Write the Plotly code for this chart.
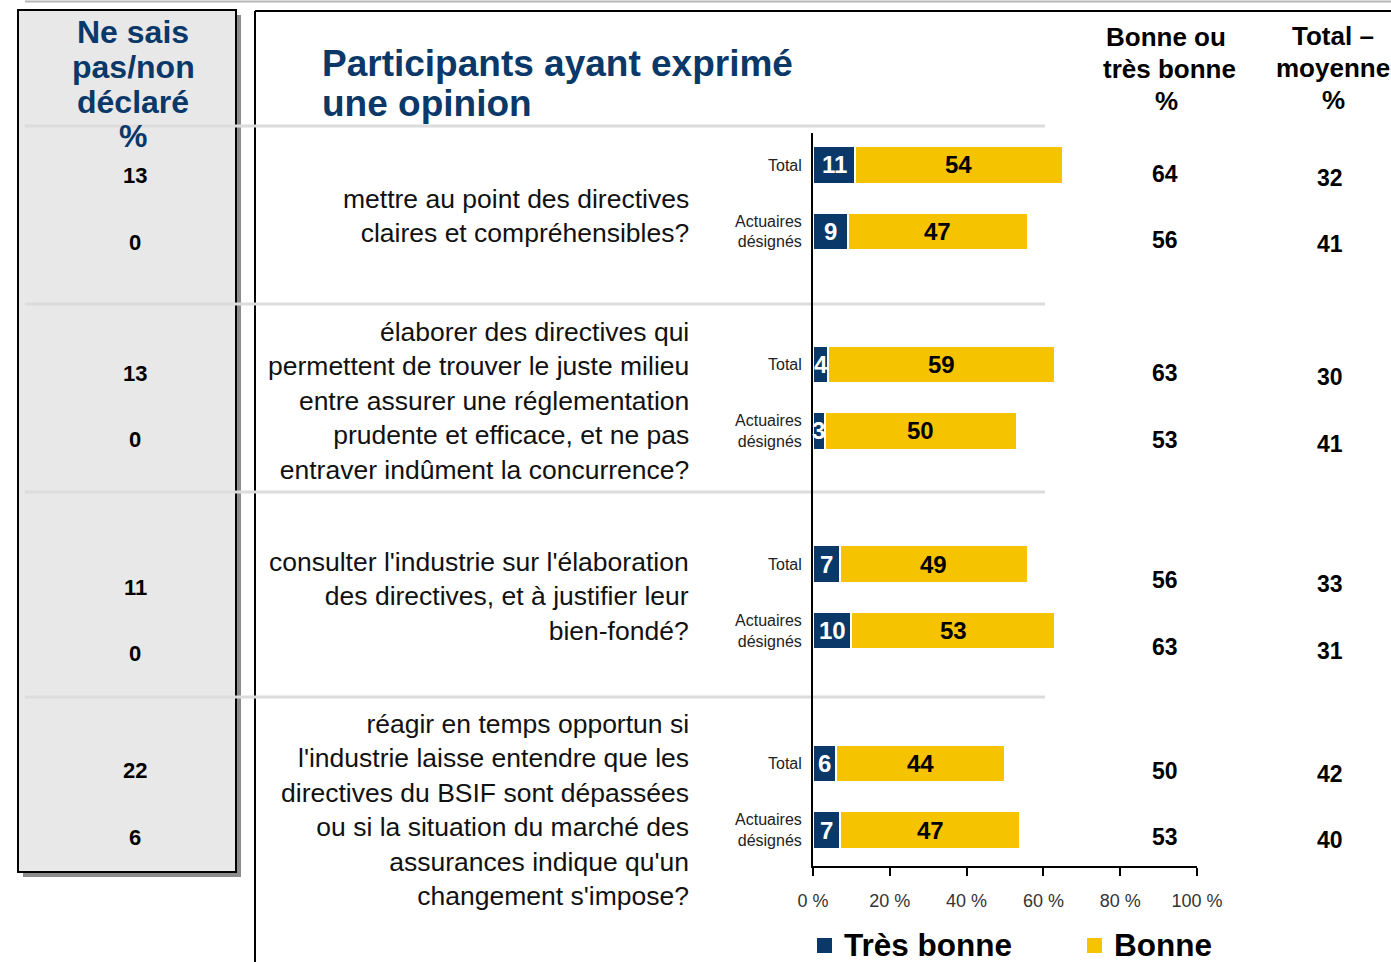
import plotly.graph_objects as go

# ---- data -------------------------------------------------------------
questions = [
    "mettre au point des directives<br>claires et compréhensibles?",
    "élaborer des directives qui<br>permettent de trouver le juste milieu<br>"
    "entre assurer une réglementation<br>prudente et efficace, et ne pas<br>"
    "entraver indûment la concurrence?",
    "consulter l'industrie sur l'élaboration<br>des directives, et à justifier leur<br>bien-fondé?",
    "réagir en temps opportun si<br>l'industrie laisse entendre que les<br>"
    "directives du BSIF sont dépassées<br>ou si la situation du marché des<br>"
    "assurances indique qu'un<br>changement s'impose?",
]
groups = ["Total", "Actuaires<br>désignés"]
series = ["Très bonne", "Bonne"]

# per question: [Total, Actuaires désignés]
tres_bonne = [[11, 9], [4, 3], [7, 10], [6, 7]]
bonne = [[54, 47], [59, 50], [49, 53], [44, 47]]
bonne_ou_tres_bonne = [[64, 56], [63, 53], [56, 63], [50, 53]]
total_moyenne = [[32, 41], [30, 41], [33, 31], [42, 40]]
ne_sais_pas = [[13, 0], [13, 0], [11, 0], [22, 6]]

x_ticks = [0, 20, 40, 60, 80, 100]
x_tick_labels = [f"{v} %" for v in x_ticks]

# ---- page geometry helpers -------------------------------------------
W, H = 1391, 962
FONT = "Liberation Sans, Arial, sans-serif"
NAVY = "#0a3868"
YELLOW = "#f5c300"
COLORS = [NAVY, YELLOW]


def fx(p):
    return p / W


def fy(p):
    return 1 - p / H


# each question occupies 3 slots on the category axis: Total, Actuaires, gap
y_pos = [3 * q + k for q in range(len(questions)) for k in range(len(groups))]


def flat(rows):
    return [v for row in rows for v in row]


fig = go.Figure()
for name, vals, color in zip(series, [tres_bonne, bonne], COLORS):
    fig.add_trace(go.Bar(
        name=name, orientation="h", y=y_pos, x=flat(vals),
        marker=dict(color=color, line=dict(color="white", width=2)),
        width=0.56, hoverinfo="skip", showlegend=False,
    ))

annotations = []


def label(text, x, y, size, color="black", bold=True, xanchor="center", **kw):
    annotations.append(dict(
        text=text, x=x, y=y, showarrow=False, xanchor=xanchor, yanchor="middle",
        font=dict(family=FONT, size=size, color=color, weight="bold" if bold else "normal"),
        **kw))


# value labels centred in each bar segment
for tb, b, yv in zip(flat(tres_bonne), flat(bonne), y_pos):
    label(str(tb), tb / 2, yv, 24, "white", xref="x", yref="y")
    label(str(b), tb + b / 2, yv, 24, "black", xref="x", yref="y")

# headings
label("Participants ayant exprimé", fx(320), fy(63), 37, NAVY, xanchor="left",
      xref="paper", yref="paper")
label("une opinion", fx(320), fy(103), 37, NAVY, xanchor="left",
      xref="paper", yref="paper")
for txt, yy in zip(["Ne sais", "pas/non", "déclaré", "%"], [32, 67, 102, 136]):
    label(txt, fx(133), fy(yy), 32, NAVY, xref="paper", yref="paper")
for txt, xx, yy in zip(["Bonne ou", "très bonne", "%"], [1166, 1169, 1166], [37, 69, 101]):
    label(txt, fx(xx), fy(yy), 26, xref="paper", yref="paper")
for txt, yy in zip(["Total –", "moyenne", "%"], [36, 68, 100]):
    label(txt, fx(1333), fy(yy), 26, xref="paper", yref="paper")

# question wording, centred on each pair of bars
q_shift = [-18, -3, 1, -13]
for q, txt in enumerate(questions):
    label(txt, fx(691), 3 * q + 0.5, 26.5, "#111111", bold=False, xanchor="right",
          align="right", xref="paper", yref="y", yshift=q_shift[q])

# side columns of figures
col_shift_left = [-11, -9, -23, -7]
col_shift_bonne = [-9, -9, -16, -7]
col_shift_moy = [-13, -13, -20, -10]
for q in range(len(questions)):
    for k in range(len(groups)):
        yv = 3 * q + k
        label(str(ne_sais_pas[q][k]), fx(135), yv, 22, xref="paper", yref="y",
              yshift=col_shift_left[q])
        label(str(bonne_ou_tres_bonne[q][k]), fx(1165), yv, 23, xref="paper", yref="y",
              yshift=col_shift_bonne[q])
        label(str(total_moyenne[q][k]), fx(1330), yv, 23, xref="paper", yref="y",
              yshift=col_shift_moy[q])

shapes = [
    # shadow + grey box of the "Ne sais pas" column
    dict(type="rect", xref="paper", yref="paper", x0=fx(23), x1=fx(241), y0=fy(877), y1=fy(15),
         fillcolor="#8c8c8c", line=dict(width=0), layer="below"),
    dict(type="rect", xref="paper", yref="paper", x0=fx(18), x1=fx(236), y0=fy(872), y1=fy(10),
         fillcolor="#e8e8e8", line=dict(color="black", width=2), layer="below"),
    # top rules and panel frame
    dict(type="line", xref="paper", yref="paper", x0=fx(25), x1=1, y0=fy(1.5), y1=fy(1.5),
         line=dict(color="#b5b5b5", width=2), layer="below"),
    dict(type="line", xref="paper", yref="paper", x0=fx(255), x1=1, y0=fy(11), y1=fy(11),
         line=dict(color="black", width=2), layer="below"),
    dict(type="line", xref="paper", yref="paper", x0=fx(255), x1=fx(255), y0=fy(11), y1=0,
         line=dict(color="black", width=2), layer="below"),
]
for yy in [126, 304, 492, 697]:
    shapes.append(dict(type="line", xref="paper", yref="paper", x0=fx(25), x1=fx(1045),
                       y0=fy(yy), y1=fy(yy), line=dict(color="#dcdcdc", width=3),
                       layer="below"))

# legend: coloured square + bold series name
for name, color, sq_x in zip(series, COLORS, [817, 1087]):
    shapes.append(dict(type="rect", xref="paper", yref="paper",
                       x0=fx(sq_x), x1=fx(sq_x + 15), y0=fy(953), y1=fy(938),
                       fillcolor=color, line=dict(width=0)))
    label(name, fx(sq_x + 25), fy(945), 31.5, xanchor="left", xref="paper", yref="paper")

fig.update_layout(
    width=W, height=H, margin=dict(l=0, r=0, t=0, b=0, autoexpand=False),
    paper_bgcolor="white", plot_bgcolor="rgba(0,0,0,0)",
    barmode="stack", bargap=0, showlegend=False,
    font=dict(family=FONT),
    xaxis=dict(
        domain=[fx(813), fx(1197)], range=[0, 100], tickmode="array",
        tickvals=x_ticks, ticktext=x_tick_labels, automargin=False,
        showgrid=False, zeroline=False, showline=True, linecolor="black", linewidth=2,
        ticks="outside", ticklen=8, tickwidth=2, tickcolor="black", ticklabelstandoff=9,
        tickfont=dict(family=FONT, size=18, color="#333333"), fixedrange=True,
    ),
    yaxis=dict(
        domain=[fy(866), fy(133)], range=[10.54, -0.48], automargin=False,
        tickmode="array", tickvals=y_pos, ticktext=groups * len(questions),
        showgrid=False, zeroline=False, showline=True, linecolor="black", linewidth=2,
        ticks="", ticklabelstandoff=6,
        tickfont=dict(family=FONT, size=16, color="#222222"), fixedrange=True,
    ),
    annotations=annotations, shapes=shapes,
)

fig.write_html("out.html")
